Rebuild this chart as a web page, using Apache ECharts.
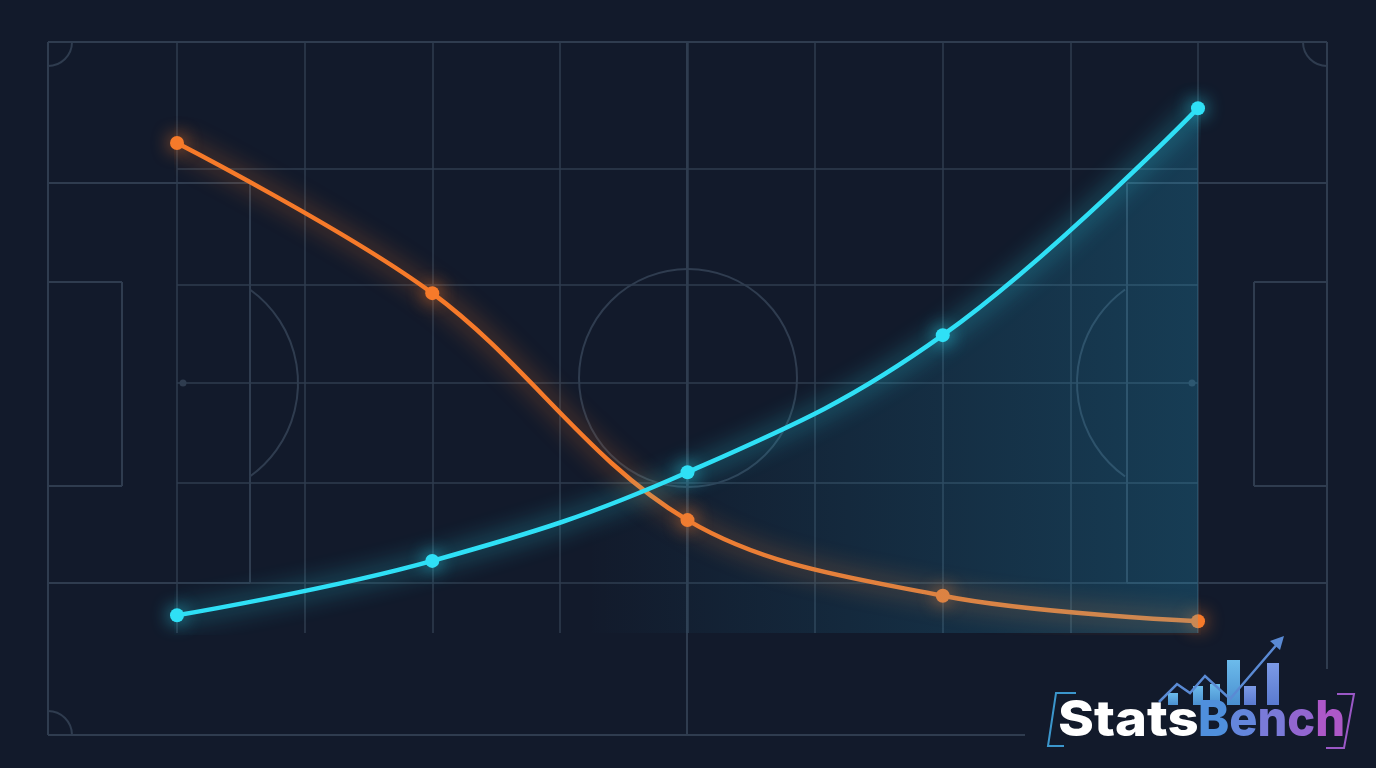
<!DOCTYPE html>
<html>
<head>
<meta charset="utf-8">
<style>
html,body{margin:0;padding:0;background:#121a2b;}
#chart{width:1376px;height:768px;}
</style>
<script src="https://cdn.jsdelivr.net/npm/echarts@6/dist/echarts.min.js"></script>
</head>
<body>
<div id="chart"></div>
<script>
// ---- data ----
var xPositions = [0, 2, 4, 6, 8];
var orangeValues = [82.9, 57.5, 19.1, 6.3, 2.0];
var cyanValues = [3.0, 12.2, 27.2, 50.4, 88.8];
var gridLevels = [78.5, 58.9, 42.3, 25.4, 8.5];

var BG = '#121a2b';
var LINE = '#2f3c4f';
var ORANGE = '#f67a2a';
var CYAN = '#2fe0f6';

function pair(a, b) { return a.map(function (v, i) { return [v, b[i]]; }); }

var chart = echarts.init(document.getElementById('chart'));

var pitchStyle = { stroke: LINE, lineWidth: 2, fill: null };
var pitch = [];
function ln(x1, y1, x2, y2) { pitch.push({ type: 'line', silent: true, z: -10, shape: { x1: x1, y1: y1, x2: x2, y2: y2 }, style: pitchStyle }); }
function arc(cx, cy, r, s, e) { pitch.push({ type: 'arc', silent: true, z: -10, shape: { cx: cx, cy: cy, r: r, startAngle: s, endAngle: e }, style: pitchStyle }); }
// outer boundary
ln(48, 42, 1327, 42);
ln(48, 42, 48, 735);
ln(48, 735, 1025, 735);
ln(1327, 42, 1327, 669);
// halfway line
ln(687, 42, 687, 735);
// left penalty box
ln(48, 183, 250, 183); ln(250, 183, 250, 583); ln(48, 583, 250, 583);
// right penalty box
ln(1127, 183, 1327, 183); ln(1127, 183, 1127, 583); ln(1127, 583, 1327, 583);
// goal areas
ln(48, 282, 122, 282); ln(122, 282, 122, 486); ln(48, 486, 122, 486);
ln(1254, 282, 1327, 282); ln(1254, 282, 1254, 486); ln(1254, 486, 1327, 486);
// center circle
pitch.push({ type: 'circle', silent: true, z: -10, shape: { cx: 688, cy: 378, r: 109 }, style: pitchStyle });
// penalty arcs
arc(183, 383, 115, -0.95, 0.95);
arc(1192, 383, 115, Math.PI - 0.95, Math.PI + 0.95);
// corner arcs
arc(48, 42, 24, 0, Math.PI / 2);
arc(1327, 42, 24, Math.PI / 2, Math.PI);
arc(48, 735, 24, -Math.PI / 2, 0);
// penalty spots
pitch.push({ type: 'circle', silent: true, z: -10, shape: { cx: 183, cy: 383, r: 3.5 }, style: { fill: LINE } });
pitch.push({ type: 'circle', silent: true, z: -10, shape: { cx: 1192, cy: 383, r: 3.5 }, style: { fill: LINE } });

// ---- logo ----
var logo = [];
var bars = [
  [1168, 693, 10], [1193, 686, 10], [1210, 684, 10], [1227, 660, 13], [1244, 686, 12], [1267, 663, 12]
];
bars.forEach(function (b, i) {
  logo.push({ type: 'rect', silent: true, z: 50, shape: { x: b[0], y: b[1], width: b[2], height: 705 - b[1] },
    style: { fill: new echarts.graphic.LinearGradient(0, 0, 0, 1, [
      { offset: 0, color: i < 4 ? '#6cbbeb' : '#7c9ae6' },
      { offset: 1, color: i < 4 ? '#4a8fd0' : '#5a7ad0' }]) } });
});
logo.push({ type: 'polyline', silent: true, z: 51, shape: { points: [[1159, 702], [1177, 684], [1190, 693], [1205, 676], [1230, 699], [1279, 642]] },
  style: { stroke: '#5a8ad4', lineWidth: 2.5, fill: null, lineJoin: 'miter' } });
logo.push({ type: 'polygon', silent: true, z: 51, shape: { points: [[1284, 636], [1270, 641], [1280, 650]] }, style: { fill: '#5a8ad4' } });
logo.push({ type: 'polyline', silent: true, z: 51, shape: { points: [[1076, 693], [1056, 693], [1048, 746], [1064, 746]] },
  style: { stroke: '#3b96cc', lineWidth: 2, fill: null } });
logo.push({ type: 'polyline', silent: true, z: 51, shape: { points: [[1337, 694], [1354, 694], [1344, 748], [1326, 748]] },
  style: { stroke: '#9a58c6', lineWidth: 2, fill: null } });
var FONT = '800 50px Inter';
logo.push({ type: 'text', silent: true, z: 52, x: 1058, y: 721, scaleX: 1.09,
  style: { text: 'Stats', fill: '#ffffff', font: FONT, verticalAlign: 'middle', align: 'left' } });
var benchColors = ['#4f8fdc', '#6486dc', '#7a7ad8', '#9266d0', '#ad58c8'];
var richStyles = {};
benchColors.forEach(function (c, i) { richStyles['c' + i] = { fill: c, font: FONT }; });
logo.push({ type: 'text', silent: true, z: 52, x: 1198, y: 721, scaleX: 0.94,
  style: { text: '{c0|B}{c1|e}{c2|n}{c3|c}{c4|h}', font: FONT, verticalAlign: 'middle', align: 'left', rich: richStyles } });

var option = {
  backgroundColor: BG,
  animation: false,
  grid: { left: 177, right: 178, top: 42, bottom: 135 },
  xAxis: {
    type: 'value', min: 0, max: 8, interval: 1,
    axisLine: { show: false }, axisTick: { show: false }, axisLabel: { show: false },
    splitLine: { show: true, lineStyle: { color: LINE, width: 1.5 } }
  },
  yAxis: {
    type: 'value', min: 0, max: 100,
    axisLine: { show: false }, axisTick: { show: false }, axisLabel: { show: false },
    splitLine: { show: false }
  },
  graphic: pitch.concat(logo),
  series: [
    {
      type: 'line', name: 'grid', data: [], z: 1, silent: true,
      markLine: {
        z: 1, silent: true, symbol: 'none', label: { show: false },
        lineStyle: { color: LINE, width: 1.5, type: 'solid' },
        data: gridLevels.map(function (v) { return { yAxis: v }; })
      }
    },
    {
      type: 'line', name: 'Away', data: pair(xPositions, orangeValues),
      smooth: 0.35, symbol: 'circle', symbolSize: 14, z: 3,
      lineStyle: { color: ORANGE, width: 4.5, shadowBlur: 24, shadowColor: 'rgba(246,122,42,0.95)' },
      itemStyle: { color: ORANGE, shadowBlur: 18, shadowColor: 'rgba(246,122,42,0.9)' }
    },
    {
      type: 'line', name: 'Home', data: pair(xPositions, cyanValues),
      smooth: 0.4, symbol: 'circle', symbolSize: 14, z: 4,
      lineStyle: { color: CYAN, width: 4.5, shadowBlur: 24, shadowColor: 'rgba(47,224,246,0.95)' },
      itemStyle: { color: CYAN, shadowBlur: 18, shadowColor: 'rgba(47,224,246,0.9)' },
      areaStyle: {
        color: new echarts.graphic.LinearGradient(0, 0, 1, 0, [
          { offset: 0, color: 'rgba(40,190,240,0)' },
          { offset: 0.4, color: 'rgba(40,190,240,0.0)' },
          { offset: 0.6, color: 'rgba(40,190,240,0.1)' },
          { offset: 1, color: 'rgba(40,190,240,0.3)' }])
      }
    }
  ]
};
chart.setOption(option);
</script>
</body>
</html>
